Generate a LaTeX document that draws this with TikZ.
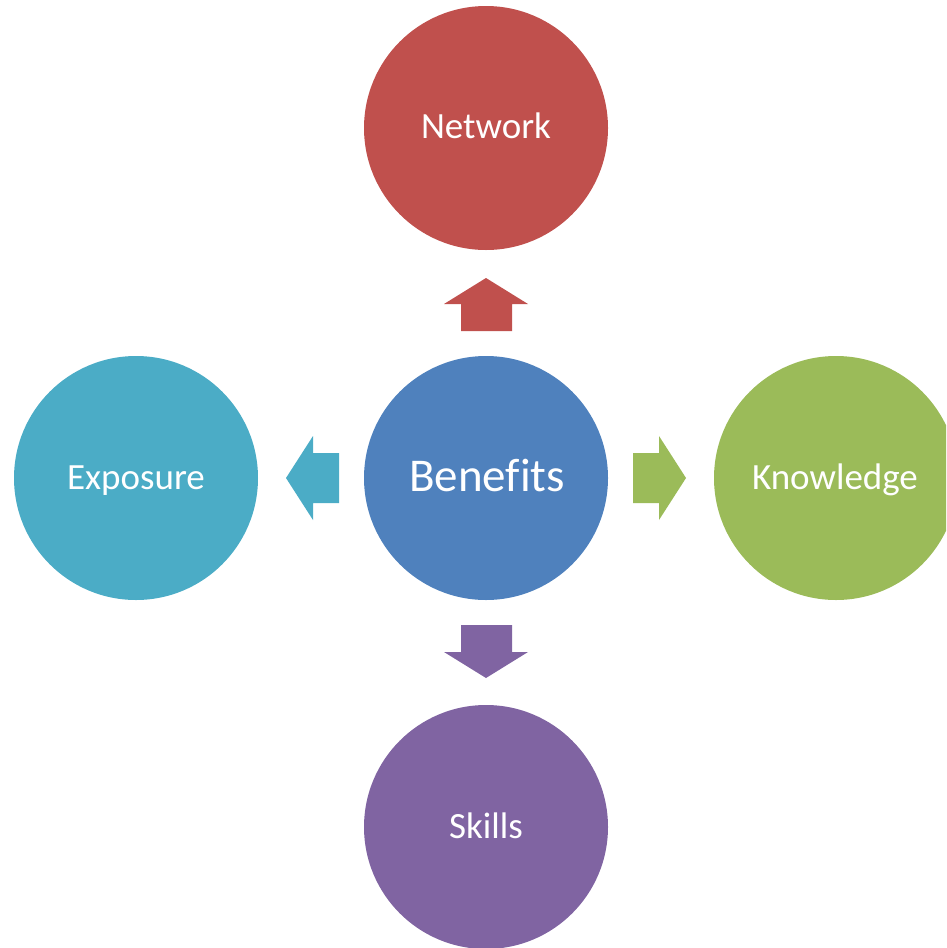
\documentclass[tikz,border=0pt]{standalone}
\usepackage{fontspec}
\setmainfont[Ligatures={NoCommon}]{Carlito}
\definecolor{cblue}{HTML}{4F81BD}
\definecolor{cred}{HTML}{C0504D}
\definecolor{cgreen}{HTML}{9BBB59}
\definecolor{cpurple}{HTML}{8064A2}
\definecolor{caqua}{HTML}{4BACC6}
\begin{document}
\begin{tikzpicture}[x=1pt,y=-1pt,
  bubble/.style={circle,minimum size=244pt,inner sep=0pt},
  lbl/.style={text=white,anchor=base,font=\fontsize{37}{42}\selectfont},
  big/.style={text=white,anchor=base,font=\fontsize{47}{52}\selectfont}]
\useasboundingbox (0,0) rectangle (946,948);
\clip (0,0) rectangle (946,948);
\node[bubble,fill=cblue] (benefits) at (486,478) {};
\node[bubble,fill=cred] (network) at (486,128) {};
\node[bubble,fill=caqua] (exposure) at (136,478) {};
\node[bubble,fill=cgreen] (knowledge) at (836,478) {};
\node[bubble,fill=cpurple] (skills) at (486,827) {};
% labels
\node[big] (tb) at (487,491) {Benefits};
\node[lbl] (tn) at (486,138) {Network};
\node[lbl] (te) at (136,489) {Exposure};
\node[lbl] (tk) at (835,489) {Knowledge};
\node[lbl] (ts) at (486,838) {Skills};
% block arrows
\fill[cred] (461,331) -- (461,304) -- (444,304) -- (486,278) -- (528,304) -- (512,304) -- (512,331) -- cycle;
\fill[cpurple] (461,625) -- (461,652) -- (444,652) -- (486,678) -- (528,652) -- (512,652) -- (512,625) -- cycle;
\fill[caqua] (339,453) -- (313,453) -- (313,436) -- (286,478) -- (313,520) -- (313,503) -- (339,503) -- cycle;
\fill[cgreen] (633,453) -- (659,453) -- (659,436) -- (686,478) -- (659,520) -- (659,503) -- (633,503) -- cycle;
\end{tikzpicture}
\end{document}
